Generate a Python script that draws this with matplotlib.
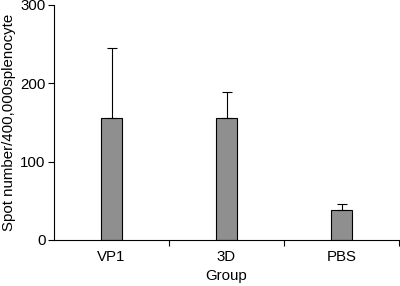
import matplotlib
matplotlib.use('Agg')
import matplotlib.pyplot as plt
import numpy as np

# Values
groups = ['VP1', '3D', 'PBS']
spot_mean = [155, 155, 38]
spot_err = [90, 34, 7.5]
y_ticks = [0, 100, 200, 300]

plt.rcParams['font.family'] = ['Liberation Sans', 'DejaVu Sans']
plt.rcParams['font.size'] = 10.8

fig = plt.figure(figsize=(4.0, 2.86), dpi=100)
ax = fig.add_axes([0.135, 0.161, 0.8625, 0.822])

x = np.arange(len(groups))
ax.bar(x, spot_mean, width=0.175, color='#8f8f8f', edgecolor='black', linewidth=0.8,
       yerr=[np.zeros(len(spot_err)), spot_err],
       error_kw=dict(ecolor='black', elinewidth=0.8, capsize=3.5, capthick=0.8))

ax.set_xlim(-0.5, len(groups) - 0.5)
ax.set_ylim(0, 300)
ax.set_yticks(y_ticks)
ax.set_xticks(x)
ax.set_xticklabels(groups)
ax.set_xticks(x + 0.5, minor=True)
ax.tick_params(axis='x', which='major', length=0, pad=7)
ax.tick_params(axis='x', which='minor', length=4, width=0.8, direction='out')
ax.tick_params(axis='y', length=4, width=0.8, direction='out', pad=2)

for side in ['top', 'right']:
    ax.spines[side].set_visible(False)
for side in ['left', 'bottom']:
    ax.spines[side].set_linewidth(0.8)

ax.set_xlabel('Group', labelpad=4)
ax.set_ylabel('Spot number/400,000splenocyte', labelpad=3)

fig.savefig('out.png', dpi=100)
